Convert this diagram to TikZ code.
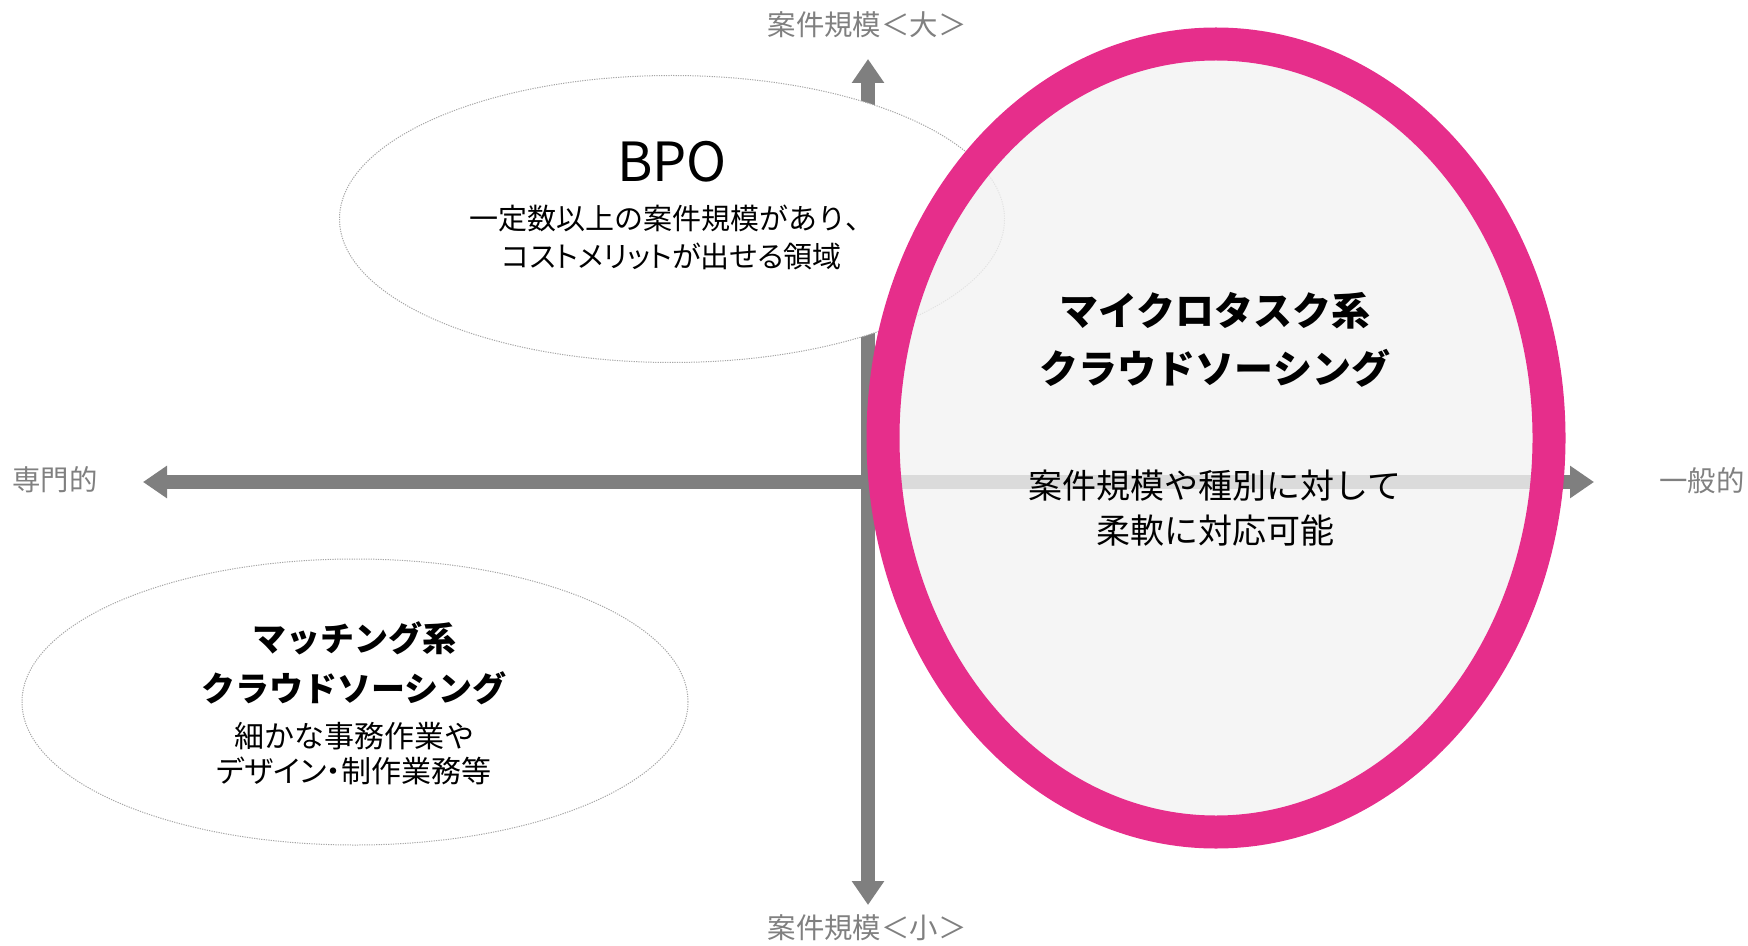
\documentclass[tikz,border=0pt]{standalone}
\usepackage{fontspec}
\setmainfont{Noto Sans CJK JP}
\newfontfamily\propjp[RawFeature=+palt]{Noto Sans CJK JP}
\usetikzlibrary{shapes.geometric,arrows.meta}
\definecolor{axisgray}{RGB}{127,127,127}
\definecolor{labelgray}{RGB}{128,128,128}
\definecolor{hotpink}{RGB}{230,46,139}
\definecolor{softgray}{RGB}{242,242,242}
\tikzset{
  axisline/.style={draw=axisgray, line width=7pt,
    {Triangle[width=15.5pt,length=12pt]}-{Triangle[width=15.5pt,length=12pt]}},
  axislabel/.style={text=labelgray, font=\fontsize{14.2pt}{17pt}\selectfont, inner sep=0pt},
  zone/.style={ellipse, draw=gray!70, fill=white, line width=0.5pt,
    dash pattern=on 0.6pt off 0.6pt, inner sep=0pt},
  focus/.style={ellipse, draw=hotpink, line width=16.5pt, fill=softgray, fill opacity=0.8,
    draw opacity=1, inner sep=0pt},
  titlebig/.style={font=\bfseries\fontsize{19.5pt}{23pt}\selectfont, inner sep=0pt},
  titlemid/.style={font=\bfseries\fontsize{17pt}{20pt}\selectfont, inner sep=0pt},
  bodytext/.style={font=\fontsize{15pt}{18pt}\selectfont, inner sep=0pt},
  bodysmall/.style={font=\fontsize{14.5pt}{17pt}\selectfont, inner sep=0pt},
}
\begin{document}
\begin{tikzpicture}[x=0.5pt,y=-0.5pt]
\useasboundingbox (0,0) rectangle (1748,946);
% axis labels
\node[axislabel] (lbltop) at (867,25) {案件規模＜大＞};
\node[axislabel] (lblbottom) at (867,928) {案件規模＜小＞};
\node[axislabel] (lblleft) at (55,480) {専門的};
\node[axislabel] (lblright) at (1702,481) {一般的};
% axes
\coordinate (top) at (868,59);
\coordinate (bottom) at (868,905);
\coordinate (left) at (143,482);
\coordinate (right) at (1594,482);
\draw[axisline] (bottom) -- (top);
\draw[axisline] (left) -- (right);
% zones
\node[zone, minimum width=332.5pt, minimum height=143.5pt] (bpo) at (672,219) {};
\node[zone, minimum width=333pt, minimum height=143pt] (match) at (355,702) {};
\node[focus, minimum width=333pt, minimum height=394pt] (micro) at (1216,438) {};
% BPO text
\node[font=\fontsize{27pt}{30pt}\selectfont, inner sep=0pt] (bpot) at (672,162) {BPO};
\node[bodysmall] (bpo1) at (672,218) {一定数以上の案件規模があり、};
\node[bodysmall, font=\propjp\fontsize{14.5pt}{17pt}\selectfont] (bpo2) at (672,256) {コストメリットが出せる領域};
% matching text
\node[titlemid] (m1) at (354,638) {マッチング系};
\node[titlemid] (m2) at (354,688) {クラウドソーシング};
\node[bodytext] (m3) at (354,736) {細かな事務作業や};
\node[bodytext, font=\propjp\fontsize{15pt}{18pt}\selectfont] (m4) at (354,771) {デザイン・制作業務等};
% micro task text
\node[titlebig] (c1) at (1215,311) {マイクロタスク系};
\node[titlebig] (c2) at (1215,368) {クラウドソーシング};
\node[font=\fontsize{17pt}{20pt}\selectfont, inner sep=0pt] (c3) at (1215,486) {案件規模や種別に対して};
\node[font=\fontsize{17pt}{20pt}\selectfont, inner sep=0pt] (c4) at (1215,531) {柔軟に対応可能};
\end{tikzpicture}
\end{document}
